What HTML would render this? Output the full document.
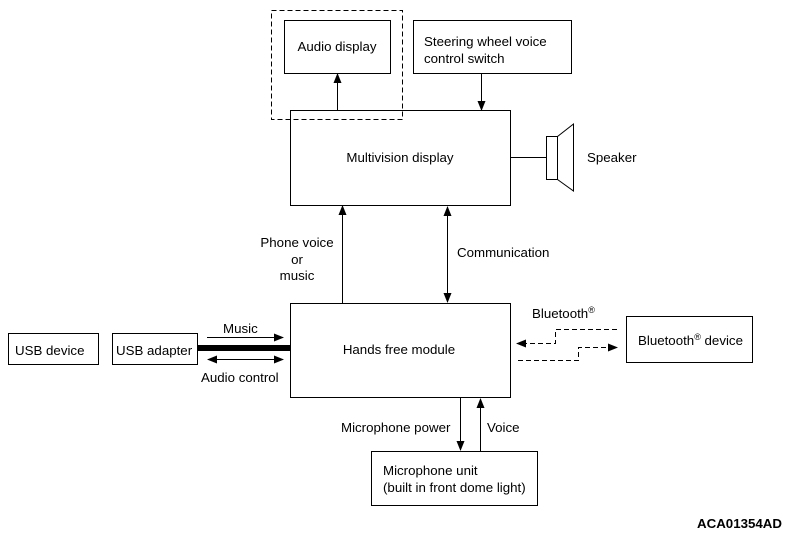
<!DOCTYPE html>
<html><head><style>
html,body{margin:0;padding:0;background:#fff;}
svg{display:block;}
text{font-family:"Liberation Sans",Arial,sans-serif;font-size:13.3px;fill:#000;}
</style></head><body>
<svg width="789" height="537" viewBox="0 0 789 537" xmlns="http://www.w3.org/2000/svg">
<defs>
<marker id="a" markerWidth="10" markerHeight="8" refX="9" refY="4" orient="auto" markerUnits="userSpaceOnUse">
<path d="M0,0 L10,4 L0,8 Z" fill="#000"/></marker>
<marker id="s" markerWidth="10" markerHeight="8" refX="1" refY="4" orient="auto" markerUnits="userSpaceOnUse">
<path d="M10,0 L0,4 L10,8 Z" fill="#000"/></marker>
</defs>
<g fill="none" stroke="#000" stroke-width="1">
<rect x="271.5" y="10.5" width="131" height="109" stroke-dasharray="5,3"/>
<rect x="284.5" y="20.5" width="106" height="53"/>
<rect x="413.5" y="20.5" width="158" height="53"/>
<rect x="290.5" y="110.5" width="220" height="95"/>
<rect x="290.5" y="303.5" width="220" height="94"/>
<rect x="8.5" y="333.5" width="90" height="31"/>
<rect x="112.5" y="333.5" width="85" height="31"/>
<rect x="626.5" y="316.5" width="126" height="46"/>
<rect x="371.5" y="451.5" width="166" height="54"/>
<line x1="510" y1="157.5" x2="546" y2="157.5"/>
<rect x="546.5" y="136.5" width="11" height="43"/>
<path d="M557.5,136.5 L573.5,124 L573.5,191 L557.5,179.5"/>
<line x1="337.5" y1="110" x2="337.5" y2="74" marker-end="url(#a)"/>
<line x1="481.5" y1="74" x2="481.5" y2="110" marker-end="url(#a)"/>
<line x1="342.5" y1="303" x2="342.5" y2="206" marker-end="url(#a)"/>
<line x1="447.5" y1="207" x2="447.5" y2="302" marker-end="url(#a)" marker-start="url(#s)"/>
<line x1="460.5" y1="398" x2="460.5" y2="450" marker-end="url(#a)"/>
<line x1="480.5" y1="451" x2="480.5" y2="399" marker-end="url(#a)"/>
<line x1="197" y1="348" x2="290" y2="348" stroke-width="6"/>
<line x1="207" y1="337.5" x2="283" y2="337.5" marker-end="url(#a)"/>
<line x1="208" y1="359.5" x2="283" y2="359.5" marker-end="url(#a)" marker-start="url(#s)"/>
<path d="M617,329.5 L555.5,329.5 L555.5,343.5 L517,343.5" stroke-dasharray="5,3" marker-end="url(#a)"/>
<path d="M518,360.5 L578.5,360.5 L578.5,347.5 L617,347.5" stroke-dasharray="5,3" marker-end="url(#a)"/>
</g>
<text x="337" y="51" text-anchor="middle">Audio display</text>
<text x="424" y="46">Steering wheel voice</text>
<text x="424" y="63">control switch</text>
<text x="400" y="162" text-anchor="middle">Multivision display</text>
<text x="587" y="162">Speaker</text>
<text x="399" y="354" text-anchor="middle">Hands free module</text>
<text x="15" y="355">USB device</text>
<text x="116" y="355">USB adapter</text>
<text x="223" y="333">Music</text>
<text x="201" y="382">Audio control</text>
<text x="297" y="247" text-anchor="middle">Phone voice</text>
<text x="297" y="264" text-anchor="middle">or</text>
<text x="297" y="280" text-anchor="middle">music</text>
<text x="457" y="257">Communication</text>
<text x="532" y="318">Bluetooth<tspan font-size="9" dy="-5">®</tspan></text>
<text x="638" y="345">Bluetooth<tspan font-size="9" dy="-5">®</tspan><tspan dy="5"> device</tspan></text>
<text x="341" y="432">Microphone power</text>
<text x="487" y="432">Voice</text>
<text x="383" y="475">Microphone unit</text>
<text x="383" y="492">(built in front dome light)</text>
<text x="782" y="528" font-size="9" font-weight="bold" text-anchor="end">ACA01354AD</text>
</svg>
</body></html>
